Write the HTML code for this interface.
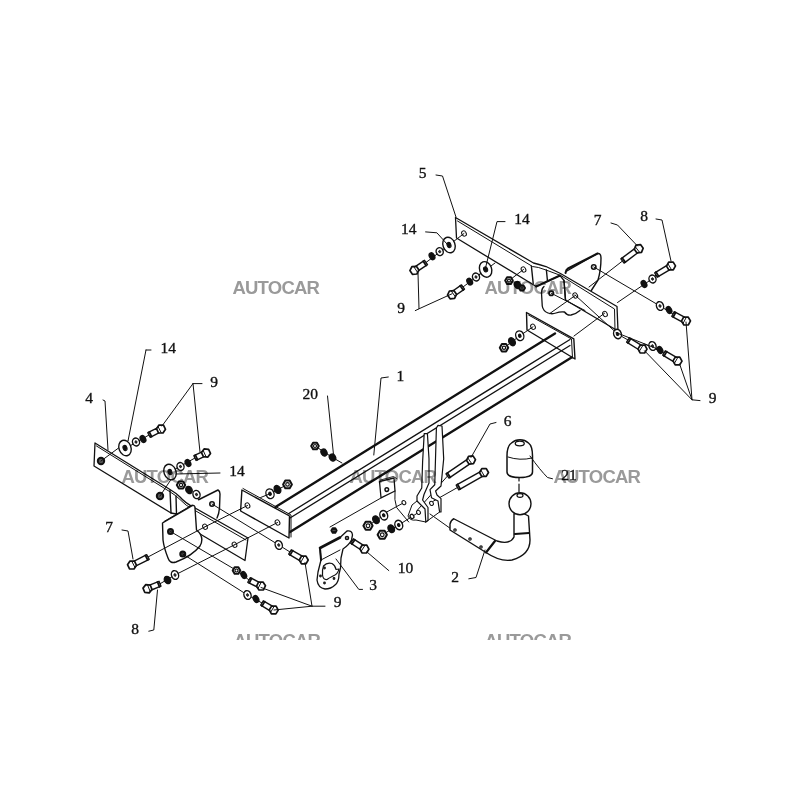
<!DOCTYPE html>
<html><head><meta charset="utf-8"><style>
html,body{margin:0;padding:0;background:#fff;width:800px;height:800px;overflow:hidden}
svg{display:block}
</style></head><body>
<svg width="800" height="800" viewBox="0 0 800 800">
<rect width="800" height="800" fill="#fff"/>
<path d="M566,271.5 L597.5,253.5 Q601,253 601,258 Q601,270 598,280 L591,291" fill="#fff" stroke="#111" stroke-width="1.4" stroke-linejoin="round" stroke-linecap="round"/>
<path d="M565.5,273 Q566,269.5 568,268.5 L597.5,253.5" fill="none" stroke="#111" stroke-width="2.0" stroke-linejoin="round" stroke-linecap="round"/>
<ellipse cx="593.75" cy="267" rx="2.2" ry="2.2" transform="rotate(0 593.75 267)" fill="#fff" stroke="#111" stroke-width="1.6"/>
<polygon points="455.5,217.5 533.5,263.0 539.0,264.5 546.0,266.5 560.5,273.5 617.0,306.5 618.0,331.0 565.5,300.0 564.0,280.5 560.0,275.5 536.2,286.5 456.5,238.0" fill="#fff" stroke="#111" stroke-width="1.3" stroke-linejoin="round"/>
<polyline points="457.5,221.0 532.5,266.5 538.5,267.5 546.0,270.0 561.0,275.6 614.5,309.0 615.0,329.5" fill="none" stroke="#111" stroke-width="1.0" stroke-linejoin="round" stroke-linecap="round"/>
<polyline points="531.4,266.2 533.2,283.5" fill="none" stroke="#111" stroke-width="1.4" stroke-linejoin="round" stroke-linecap="round"/>
<polyline points="546.4,270.0 547.5,281.2" fill="none" stroke="#111" stroke-width="1.4" stroke-linejoin="round" stroke-linecap="round"/>
<polyline points="564.0,280.5 565.5,300.0" fill="none" stroke="#111" stroke-width="1.4" stroke-linejoin="round" stroke-linecap="round"/>
<ellipse cx="464" cy="233.5" rx="2.2" ry="2.8" transform="rotate(-30 464 233.5)" fill="#fff" stroke="#111" stroke-width="1.0"/>
<ellipse cx="523.5" cy="269.5" rx="2.2" ry="2.8" transform="rotate(-30 523.5 269.5)" fill="#fff" stroke="#111" stroke-width="1.0"/>
<ellipse cx="605" cy="314" rx="2.2" ry="2.8" transform="rotate(-30 605 314)" fill="#fff" stroke="#111" stroke-width="1.0"/>
<polyline points="536.2,286.5 560.0,275.5" fill="none" stroke="#111" stroke-width="2.0" stroke-linejoin="round" stroke-linecap="round"/>
<path d="M544,286.5 Q541.5,288.5 541.5,293 L542.25,306 Q543,311 548,313 Q552,314.5 556,313 Q560,311.5 564.5,312 Q567,315.5 571,315 Q576,314 580,310.5" fill="none" stroke="#111" stroke-width="1.3" stroke-linejoin="round" stroke-linecap="round"/>
<ellipse cx="551.25" cy="293.25" rx="2.2" ry="2.2" transform="rotate(0 551.25 293.25)" fill="#fff" stroke="#111" stroke-width="1.8"/>
<ellipse cx="575.25" cy="295.5" rx="2.2" ry="2.8" transform="rotate(-30 575.25 295.5)" fill="#fff" stroke="#111" stroke-width="1.0"/>
<polyline points="551.2,293.2 585.0,310.5" fill="none" stroke="#111" stroke-width="1.0" stroke-linejoin="round" stroke-linecap="round"/>
<polyline points="575.2,295.5 549.8,313.5" fill="none" stroke="#111" stroke-width="1.0" stroke-linejoin="round" stroke-linecap="round"/>
<polyline points="275.5,507.0 555.0,333.5" fill="none" stroke="#111" stroke-width="2.4" stroke-linejoin="round" stroke-linecap="round"/>
<polyline points="288.0,514.0 570.0,339.5" fill="none" stroke="#111" stroke-width="1.3" stroke-linejoin="round" stroke-linecap="round"/>
<polyline points="290.0,518.0 570.0,345.5" fill="none" stroke="#111" stroke-width="1.3" stroke-linejoin="round" stroke-linecap="round"/>
<polyline points="290.0,532.0 571.5,357.5" fill="none" stroke="#111" stroke-width="2.4" stroke-linejoin="round" stroke-linecap="round"/>
<polygon points="241.9,490.0 289.5,516.0 289.0,538.0 240.6,511.0" fill="#fff" stroke="#111" stroke-width="1.4" stroke-linejoin="round"/>
<polyline points="243.0,488.5 291.0,515.0 291.0,537.0" fill="none" stroke="#111" stroke-width="1.0" stroke-linejoin="round" stroke-linecap="round"/>
<ellipse cx="247.5" cy="505.5" rx="2.2" ry="2.8" transform="rotate(-30 247.5 505.5)" fill="#fff" stroke="#111" stroke-width="1.0"/>
<ellipse cx="277.5" cy="522.5" rx="2.2" ry="2.8" transform="rotate(-30 277.5 522.5)" fill="#fff" stroke="#111" stroke-width="1.0"/>
<polygon points="526.5,312.5 573.8,338.8 575.0,359.0 527.0,330.0" fill="none" stroke="#111" stroke-width="1.4" stroke-linejoin="round"/>
<polyline points="528.5,315.0 571.5,339.0 572.5,358.0" fill="none" stroke="#111" stroke-width="1.0" stroke-linejoin="round" stroke-linecap="round"/>
<ellipse cx="533" cy="326.75" rx="2.2" ry="2.8" transform="rotate(-30 533 326.75)" fill="#fff" stroke="#111" stroke-width="1.0"/>
<path d="M95,443 L170,489.5 Q176,493 180,497 Q185,503 195,508 L248,538 L245,560.5 L195,531 L176.5,514 L171,513 L94,466 Z" fill="#fff" stroke="#111" stroke-width="1.3" stroke-linejoin="round" stroke-linecap="round"/>
<path d="M96.5,446 L170,491.8 Q176,495.5 180,499.5 Q185,505.5 195,510.5 L246,540" fill="none" stroke="#111" stroke-width="1.0" stroke-linejoin="round" stroke-linecap="round"/>
<polyline points="170.0,490.0 171.0,513.0" fill="none" stroke="#111" stroke-width="1.4" stroke-linejoin="round" stroke-linecap="round"/>
<polyline points="176.0,496.0 176.5,514.0" fill="none" stroke="#111" stroke-width="1.4" stroke-linejoin="round" stroke-linecap="round"/>
<ellipse cx="101" cy="461" rx="3.2" ry="3.2" transform="rotate(0 101 461)" fill="#555" stroke="#111" stroke-width="2.0"/>
<ellipse cx="160" cy="496" rx="3.2" ry="3.2" transform="rotate(0 160 496)" fill="#555" stroke="#111" stroke-width="2.0"/>
<ellipse cx="205" cy="526.75" rx="2.2" ry="2.8" transform="rotate(-30 205 526.75)" fill="#fff" stroke="#111" stroke-width="1.0"/>
<ellipse cx="234.5" cy="544.75" rx="2.2" ry="2.8" transform="rotate(-30 234.5 544.75)" fill="#fff" stroke="#111" stroke-width="1.0"/>
<path d="M198.5,499.75 L218,490 Q220,491 220,494 L219.5,508 Q219,514 217,518" fill="none" stroke="#111" stroke-width="1.4" stroke-linejoin="round" stroke-linecap="round"/>
<ellipse cx="212" cy="504" rx="2.2" ry="2.2" transform="rotate(0 212 504)" fill="#fff" stroke="#111" stroke-width="1.6"/>
<path d="M162.5,523 L192.5,505.5 Q195,505 195,508 L196.5,530 Q205,537 200,546 Q192,556 176,562 Q170,564 168,558 Q164,548 163,540 Z" fill="#fff" stroke="#111" stroke-width="1.4" stroke-linejoin="round" stroke-linecap="round"/>
<polyline points="164.0,521.5 192.0,505.0" fill="none" stroke="#111" stroke-width="1.0" stroke-linejoin="round" stroke-linecap="round"/>
<ellipse cx="170.5" cy="531.5" rx="2.5" ry="2.5" transform="rotate(0 170.5 531.5)" fill="#444" stroke="#111" stroke-width="2.0"/>
<ellipse cx="182.75" cy="554" rx="2.5" ry="2.5" transform="rotate(0 182.75 554)" fill="#444" stroke="#111" stroke-width="2.0"/>
<polyline points="464.0,233.5 449.0,245.0" fill="none" stroke="#111" stroke-width="1.0" stroke-linejoin="round" stroke-linecap="round"/>
<polyline points="523.5,269.5 509.0,280.6" fill="none" stroke="#111" stroke-width="1.0" stroke-linejoin="round" stroke-linecap="round"/>
<polyline points="485.6,269.4 476.0,277.0" fill="none" stroke="#111" stroke-width="1.0" stroke-linejoin="round" stroke-linecap="round"/>
<polyline points="533.0,326.8 519.8,335.8" fill="none" stroke="#111" stroke-width="1.0" stroke-linejoin="round" stroke-linecap="round"/>
<polyline points="593.8,267.0 660.0,306.0" fill="none" stroke="#111" stroke-width="1.0" stroke-linejoin="round" stroke-linecap="round"/>
<polyline points="589.0,287.0 622.5,261.0" fill="none" stroke="#111" stroke-width="1.0" stroke-linejoin="round" stroke-linecap="round"/>
<polyline points="617.5,302.5 652.0,279.0" fill="none" stroke="#111" stroke-width="1.0" stroke-linejoin="round" stroke-linecap="round"/>
<polyline points="604.6,313.2 574.0,336.0" fill="none" stroke="#111" stroke-width="1.0" stroke-linejoin="round" stroke-linecap="round"/>
<polyline points="575.0,295.0 616.0,332.5" fill="none" stroke="#111" stroke-width="1.0" stroke-linejoin="round" stroke-linecap="round"/>
<polyline points="101.0,461.0 128.0,441.0" fill="none" stroke="#111" stroke-width="1.0" stroke-linejoin="round" stroke-linecap="round"/>
<polyline points="160.0,496.0 176.0,472.0" fill="none" stroke="#111" stroke-width="1.0" stroke-linejoin="round" stroke-linecap="round"/>
<polyline points="170.5,531.5 237.5,571.0" fill="none" stroke="#111" stroke-width="1.0" stroke-linejoin="round" stroke-linecap="round"/>
<polyline points="182.8,554.0 247.5,595.0" fill="none" stroke="#111" stroke-width="1.0" stroke-linejoin="round" stroke-linecap="round"/>
<polyline points="205.0,526.8 148.0,557.0" fill="none" stroke="#111" stroke-width="1.0" stroke-linejoin="round" stroke-linecap="round"/>
<polyline points="234.5,544.8 175.0,575.0" fill="none" stroke="#111" stroke-width="1.0" stroke-linejoin="round" stroke-linecap="round"/>
<polyline points="277.5,522.5 234.5,544.8" fill="none" stroke="#111" stroke-width="1.0" stroke-linejoin="round" stroke-linecap="round"/>
<polyline points="247.5,505.5 205.0,526.8" fill="none" stroke="#111" stroke-width="1.0" stroke-linejoin="round" stroke-linecap="round"/>
<polyline points="212.0,504.0 278.8,545.0" fill="none" stroke="#111" stroke-width="1.0" stroke-linejoin="round" stroke-linecap="round"/>
<polyline points="403.9,502.6 386.0,512.4" fill="none" stroke="#111" stroke-width="1.0" stroke-linejoin="round" stroke-linecap="round"/>
<polyline points="418.5,512.4 400.6,523.8" fill="none" stroke="#111" stroke-width="1.0" stroke-linejoin="round" stroke-linecap="round"/>
<polyline points="431.0,502.5 457.5,487.5" fill="none" stroke="#111" stroke-width="1.0" stroke-linejoin="round" stroke-linecap="round"/>
<polyline points="417.5,510.0 447.5,476.0" fill="none" stroke="#111" stroke-width="1.0" stroke-linejoin="round" stroke-linecap="round"/>
<polyline points="426.0,262.5 449.0,245.0" fill="none" stroke="#111" stroke-width="1.0" stroke-linejoin="round" stroke-linecap="round"/>
<polyline points="463.0,287.0 495.0,263.0" fill="none" stroke="#111" stroke-width="1.0" stroke-linejoin="round" stroke-linecap="round"/>
<polyline points="656.0,275.0 652.0,279.0" fill="none" stroke="#111" stroke-width="1.0" stroke-linejoin="round" stroke-linecap="round"/>
<polyline points="673.0,314.0 660.0,306.0" fill="none" stroke="#111" stroke-width="1.0" stroke-linejoin="round" stroke-linecap="round"/>
<polyline points="628.0,340.0 617.5,334.0" fill="none" stroke="#111" stroke-width="1.0" stroke-linejoin="round" stroke-linecap="round"/>
<polyline points="664.0,353.0 644.6,344.0" fill="none" stroke="#111" stroke-width="1.0" stroke-linejoin="round" stroke-linecap="round"/>
<polyline points="149.0,435.0 128.0,447.0" fill="none" stroke="#111" stroke-width="1.0" stroke-linejoin="round" stroke-linecap="round"/>
<polyline points="195.0,458.0 170.0,472.0" fill="none" stroke="#111" stroke-width="1.0" stroke-linejoin="round" stroke-linecap="round"/>
<polyline points="332.5,457.5 342.0,463.0" fill="none" stroke="#111" stroke-width="1.0" stroke-linejoin="round" stroke-linecap="round"/>
<polyline points="315.0,446.0 332.5,457.5" fill="none" stroke="#111" stroke-width="1.0" stroke-linejoin="round" stroke-linecap="round"/>
<polyline points="504.0,347.8 519.8,335.8" fill="none" stroke="#111" stroke-width="1.0" stroke-linejoin="round" stroke-linecap="round"/>
<polyline points="287.5,484.4 270.0,493.8" fill="none" stroke="#111" stroke-width="1.0" stroke-linejoin="round" stroke-linecap="round"/>
<polyline points="249.0,580.0 237.5,571.0" fill="none" stroke="#111" stroke-width="1.0" stroke-linejoin="round" stroke-linecap="round"/>
<polyline points="262.0,603.0 247.5,595.0" fill="none" stroke="#111" stroke-width="1.0" stroke-linejoin="round" stroke-linecap="round"/>
<polyline points="160.0,583.8 175.0,575.0" fill="none" stroke="#111" stroke-width="1.0" stroke-linejoin="round" stroke-linecap="round"/>
<polyline points="290.0,552.0 278.8,545.0" fill="none" stroke="#111" stroke-width="1.0" stroke-linejoin="round" stroke-linecap="round"/>
<polyline points="352.0,541.0 347.0,538.0" fill="none" stroke="#111" stroke-width="1.0" stroke-linejoin="round" stroke-linecap="round"/>
<polyline points="368.0,525.8 383.8,515.2" fill="none" stroke="#111" stroke-width="1.0" stroke-linejoin="round" stroke-linecap="round"/>
<polyline points="382.2,534.8 398.8,525.0" fill="none" stroke="#111" stroke-width="1.0" stroke-linejoin="round" stroke-linecap="round"/>
<polygon points="379.5,481.5 394.0,478.0 395.0,491.0 381.0,497.8" fill="#fff" stroke="#111" stroke-width="1.3" stroke-linejoin="round"/>
<polyline points="380.5,480.0 393.5,476.5 396.5,478.5" fill="none" stroke="#111" stroke-width="0.9" stroke-linejoin="round" stroke-linecap="round"/>
<ellipse cx="386.8" cy="489.6" rx="1.8" ry="1.8" transform="rotate(0 386.8 489.6)" fill="#fff" stroke="#111" stroke-width="1.5"/>
<path d="M395,491 Q394,500 396.6,507.5 L408.75,522" fill="none" stroke="#111" stroke-width="1.0" stroke-linejoin="round" stroke-linecap="round"/>
<path d="M436.4,428 L438,425.4 L442,426 L443.7,458.75 L441,486 L435.6,491 L437,495 L441,498.6 L441,512 L439.6,512 L438,501 L431.5,497.75 L430,489.6 L434.75,484.75 Z" fill="#fff" stroke="#111" stroke-width="1.2" stroke-linejoin="round" stroke-linecap="round"/>
<path d="M424.2,433.6 L427.4,433.6 L429,458.75 L429,483 L424,494.5 L422.6,500 L428,507.5 L428,520.5 L425.8,522 L425,509 L417,501 L417,496 L421.75,488 L422.6,462 Z" fill="#fff" stroke="#111" stroke-width="1.2" stroke-linejoin="round" stroke-linecap="round"/>
<path d="M425.8,522 L439.6,512" fill="none" stroke="#111" stroke-width="1.0" stroke-linejoin="round" stroke-linecap="round"/>
<path d="M417,501 L412,505 L408,516 Q410,521 416,520 L425.8,522" fill="none" stroke="#111" stroke-width="1.0" stroke-linejoin="round" stroke-linecap="round"/>
<ellipse cx="403.9" cy="502.6" rx="1.8" ry="2.2" transform="rotate(-30 403.9 502.6)" fill="#fff" stroke="#111" stroke-width="1.0"/>
<ellipse cx="418.5" cy="512.4" rx="1.8" ry="2.2" transform="rotate(-30 418.5 512.4)" fill="#fff" stroke="#111" stroke-width="1.0"/>
<ellipse cx="431.5" cy="503.4" rx="1.8" ry="2.2" transform="rotate(-30 431.5 503.4)" fill="#fff" stroke="#111" stroke-width="1.0"/>
<ellipse cx="412" cy="516.4" rx="1.8" ry="2.2" transform="rotate(-30 412 516.4)" fill="#fff" stroke="#111" stroke-width="1.3"/>
<polyline points="430.0,514.0 457.5,533.5" fill="none" stroke="#111" stroke-width="1.0" stroke-linejoin="round" stroke-linecap="round"/>
<path d="M320,548 L340,537.5 L347,531 Q352,530 352.5,535 L351.5,540 Q349,545 343,549 L341,558 L340.5,568 L339,574 Q339,582 335,585 Q331,589 325,589 Q318,588 317,580 L318,572 L321,560 Z" fill="#fff" stroke="#111" stroke-width="1.3" stroke-linejoin="round" stroke-linecap="round"/>
<path d="M323.5,566 Q327,562 332,563.5 Q335.5,565.5 336,569.5 L339,569 Q338,574 333,576 Q329,578 327,579.5 Q323,580 322.5,575 Q322,570 323.5,566 Z" fill="none" stroke="#111" stroke-width="1.2" stroke-linejoin="round" stroke-linecap="round"/>
<ellipse cx="324.5" cy="568" rx="0.8" ry="0.8" transform="rotate(0 324.5 568)" fill="#fff" stroke="#111" stroke-width="1.2"/>
<ellipse cx="320.5" cy="576" rx="0.8" ry="0.8" transform="rotate(0 320.5 576)" fill="#fff" stroke="#111" stroke-width="1.2"/>
<ellipse cx="324.5" cy="583" rx="0.8" ry="0.8" transform="rotate(0 324.5 583)" fill="#fff" stroke="#111" stroke-width="1.2"/>
<ellipse cx="334" cy="578.5" rx="0.8" ry="0.8" transform="rotate(0 334 578.5)" fill="#fff" stroke="#111" stroke-width="1.2"/>
<polyline points="320.0,548.0 340.0,537.5" fill="none" stroke="#111" stroke-width="2.6" stroke-linejoin="round" stroke-linecap="round"/>
<polyline points="320.0,548.0 321.0,560.0" fill="none" stroke="#111" stroke-width="2.0" stroke-linejoin="round" stroke-linecap="round"/>
<polyline points="321.0,560.0 340.0,550.0" fill="none" stroke="#111" stroke-width="1.0" stroke-linejoin="round" stroke-linecap="round"/>
<ellipse cx="347" cy="538" rx="1.5" ry="1.5" transform="rotate(0 347 538)" fill="#fff" stroke="#111" stroke-width="1.6"/>
<polygon points="336.6,530.5 335.3,532.8 332.7,532.8 331.4,530.5 332.7,528.2 335.3,528.2" fill="#fff" stroke="#111" stroke-width="2.0" stroke-linejoin="round"/>
<ellipse cx="334" cy="530.5" rx="1.04" ry="1.04" transform="rotate(0 334 530.5)" fill="#fff" stroke="#111" stroke-width="1.2"/>
<polyline points="330.0,527.0 381.0,498.0" fill="none" stroke="#111" stroke-width="1.0" stroke-linejoin="round" stroke-linecap="round"/>
<path d="M453.75,518.75 Q451,520 450,524 L450,530 L486,552.5 Q500,562 512,560 Q530,555 530,540 L528.5,516 Q521,511 514,514 L514,537 Q510,545 497,541 Z" fill="#fff" stroke="#111" stroke-width="1.4" stroke-linejoin="round" stroke-linecap="round"/>
<polyline points="486.0,552.5 495.0,541.0" fill="none" stroke="#111" stroke-width="2.2" stroke-linejoin="round" stroke-linecap="round"/>
<polyline points="515.0,534.0 529.0,533.0" fill="none" stroke="#111" stroke-width="2.2" stroke-linejoin="round" stroke-linecap="round"/>
<ellipse cx="455" cy="530" rx="1.2" ry="1.2" transform="rotate(0 455 530)" fill="#fff" stroke="#111" stroke-width="1.2"/>
<ellipse cx="470" cy="539" rx="1.2" ry="1.2" transform="rotate(0 470 539)" fill="#fff" stroke="#111" stroke-width="1.2"/>
<ellipse cx="481" cy="547" rx="1.2" ry="1.2" transform="rotate(0 481 547)" fill="#fff" stroke="#111" stroke-width="1.2"/>
<ellipse cx="520" cy="503.75" rx="11" ry="11" transform="rotate(0 520 503.75)" fill="#fff" stroke="#111" stroke-width="1.4"/>
<ellipse cx="520" cy="495.5" rx="3" ry="1.8" transform="rotate(0 520 495.5)" fill="#fff" stroke="#111" stroke-width="1.2"/>
<polyline points="519.0,478.0 519.0,481.0" fill="none" stroke="#111" stroke-width="1.2" stroke-linejoin="round" stroke-linecap="round"/>
<polyline points="519.0,484.0 519.0,492.0" fill="none" stroke="#111" stroke-width="1.2" stroke-linejoin="round" stroke-linecap="round"/>
<path d="M507,472 L507,456 Q507,446 511.5,443 Q515,439.8 520,439.8 Q525,439.8 528.5,443 Q532.5,446 532.5,456 L532.5,472 Q532.5,477.5 520,477.5 Q507,477.5 507,472 Z" fill="#fff" stroke="#111" stroke-width="1.5" stroke-linejoin="round" stroke-linecap="round"/>
<ellipse cx="519.75" cy="443.5" rx="4.5" ry="2.3" transform="rotate(0 519.75 443.5)" fill="#fff" stroke="#111" stroke-width="1.3"/>
<path d="M508,457 Q520,461 532,458" fill="none" stroke="#111" stroke-width="1.0" stroke-linejoin="round" stroke-linecap="round"/>
<ellipse cx="449" cy="245" rx="6" ry="8" transform="rotate(-20 449 245)" fill="#fff" stroke="#111" stroke-width="1.4"/>
<ellipse cx="449" cy="245" rx="1.98" ry="2.64" transform="rotate(-20 449 245)" fill="#111" stroke="#111" stroke-width="1.0"/>
<ellipse cx="439.7" cy="251.6" rx="3.5" ry="4" transform="rotate(-20 439.7 251.6)" fill="#fff" stroke="#111" stroke-width="1.4"/>
<ellipse cx="439.7" cy="251.6" rx="1.05" ry="1.2" transform="rotate(-20 439.7 251.6)" fill="#333" stroke="#111" stroke-width="0.8"/>
<ellipse cx="432" cy="256.25" rx="2.5" ry="3.5" transform="rotate(-30 432 256.25)" fill="#111" stroke="#111" stroke-width="1.4"/>
<polygon points="418.5,270.7 427.5,264.7 424.5,260.3 415.6,266.4" fill="#fff" stroke="#111" stroke-width="1.4" stroke-linejoin="round"/>
<polyline points="426.1,265.6 423.2,261.2" fill="none" stroke="#111" stroke-width="1.8" stroke-linejoin="round" stroke-linecap="round"/>
<polygon points="418.9,270.0 416.9,274.0 412.4,274.3 409.9,270.6 411.9,266.6 416.4,266.3" fill="#fff" stroke="#111" stroke-width="1.7" stroke-linejoin="round"/>
<polyline points="417.5,272.3 413.8,266.7" fill="none" stroke="#111" stroke-width="1.0" stroke-linejoin="round" stroke-linecap="round"/>
<ellipse cx="485.6" cy="269.4" rx="6" ry="8" transform="rotate(-20 485.6 269.4)" fill="#fff" stroke="#111" stroke-width="1.4"/>
<ellipse cx="485.6" cy="269.4" rx="1.98" ry="2.64" transform="rotate(-20 485.6 269.4)" fill="#111" stroke="#111" stroke-width="1.0"/>
<ellipse cx="476" cy="277" rx="3.5" ry="4" transform="rotate(-20 476 277)" fill="#fff" stroke="#111" stroke-width="1.4"/>
<ellipse cx="476" cy="277" rx="1.05" ry="1.2" transform="rotate(-20 476 277)" fill="#333" stroke="#111" stroke-width="0.8"/>
<ellipse cx="469.7" cy="281.6" rx="2.5" ry="3.5" transform="rotate(-30 469.7 281.6)" fill="#111" stroke="#111" stroke-width="1.4"/>
<polygon points="456.1,295.0 464.5,289.1 461.5,284.9 453.1,290.8" fill="#fff" stroke="#111" stroke-width="1.4" stroke-linejoin="round"/>
<polyline points="463.2,290.0 460.2,285.8" fill="none" stroke="#111" stroke-width="1.8" stroke-linejoin="round" stroke-linecap="round"/>
<polygon points="456.5,294.3 454.6,298.4 450.1,298.8 447.5,295.1 449.4,291.0 453.9,290.6" fill="#fff" stroke="#111" stroke-width="1.7" stroke-linejoin="round"/>
<polyline points="455.2,296.6 451.3,291.1" fill="none" stroke="#111" stroke-width="1.0" stroke-linejoin="round" stroke-linecap="round"/>
<polygon points="512.8,280.6 510.9,283.9 507.1,283.9 505.2,280.6 507.1,277.3 510.9,277.3" fill="#fff" stroke="#111" stroke-width="2.0" stroke-linejoin="round"/>
<ellipse cx="509" cy="280.6" rx="1.52" ry="1.52" transform="rotate(0 509 280.6)" fill="#fff" stroke="#111" stroke-width="1.2"/>
<ellipse cx="517.5" cy="285" rx="3" ry="3.5" transform="rotate(-30 517.5 285)" fill="#111" stroke="#111" stroke-width="1.4"/>
<polygon points="525.0,288.0 523.5,290.6 520.5,290.6 519.0,288.0 520.5,285.4 523.5,285.4" fill="#fff" stroke="#111" stroke-width="2.0" stroke-linejoin="round"/>
<ellipse cx="522" cy="288" rx="1.2000000000000002" ry="1.2000000000000002" transform="rotate(0 522 288)" fill="#fff" stroke="#111" stroke-width="1.2"/>
<polygon points="508.2,347.8 506.1,351.4 501.9,351.4 499.8,347.8 501.9,344.1 506.1,344.1" fill="#fff" stroke="#111" stroke-width="2.0" stroke-linejoin="round"/>
<ellipse cx="504" cy="347.75" rx="1.6800000000000002" ry="1.6800000000000002" transform="rotate(0 504 347.75)" fill="#fff" stroke="#111" stroke-width="1.2"/>
<ellipse cx="512" cy="341.75" rx="3" ry="4.2" transform="rotate(-30 512 341.75)" fill="#111" stroke="#111" stroke-width="1.4"/>
<ellipse cx="519.75" cy="335.75" rx="4" ry="5" transform="rotate(-20 519.75 335.75)" fill="#fff" stroke="#111" stroke-width="1.4"/>
<ellipse cx="519.75" cy="335.75" rx="1.32" ry="1.6500000000000001" transform="rotate(-20 519.75 335.75)" fill="#111" stroke="#111" stroke-width="1.0"/>
<polygon points="634.7,248.6 620.9,258.9 624.1,263.1 637.8,252.7" fill="#fff" stroke="#111" stroke-width="1.4" stroke-linejoin="round"/>
<polyline points="622.2,258.0 625.3,262.1" fill="none" stroke="#111" stroke-width="1.8" stroke-linejoin="round" stroke-linecap="round"/>
<polygon points="634.3,249.3 636.0,245.2 640.5,244.6 643.2,248.2 641.5,252.3 637.0,252.9" fill="#fff" stroke="#111" stroke-width="1.7" stroke-linejoin="round"/>
<polyline points="635.5,247.0 639.6,252.3" fill="none" stroke="#111" stroke-width="1.0" stroke-linejoin="round" stroke-linecap="round"/>
<polygon points="667.0,265.4 654.7,272.8 657.3,277.2 669.6,269.9" fill="#fff" stroke="#111" stroke-width="1.4" stroke-linejoin="round"/>
<polyline points="656.0,271.9 658.7,276.4" fill="none" stroke="#111" stroke-width="1.8" stroke-linejoin="round" stroke-linecap="round"/>
<polygon points="666.5,266.1 668.7,262.1 673.2,262.1 675.5,265.9 673.3,269.9 668.8,269.9" fill="#fff" stroke="#111" stroke-width="1.7" stroke-linejoin="round"/>
<polyline points="668.0,263.9 671.5,269.7" fill="none" stroke="#111" stroke-width="1.0" stroke-linejoin="round" stroke-linecap="round"/>
<ellipse cx="652.5" cy="279" rx="3.5" ry="4" transform="rotate(-20 652.5 279)" fill="#fff" stroke="#111" stroke-width="1.4"/>
<ellipse cx="652.5" cy="279" rx="1.05" ry="1.2" transform="rotate(-20 652.5 279)" fill="#333" stroke="#111" stroke-width="0.8"/>
<ellipse cx="644" cy="284" rx="2.5" ry="3.5" transform="rotate(-30 644 284)" fill="#111" stroke="#111" stroke-width="1.4"/>
<ellipse cx="660" cy="306" rx="3.5" ry="4.5" transform="rotate(-20 660 306)" fill="#fff" stroke="#111" stroke-width="1.4"/>
<ellipse cx="660" cy="306" rx="1.05" ry="1.3499999999999999" transform="rotate(-20 660 306)" fill="#333" stroke="#111" stroke-width="0.8"/>
<ellipse cx="669" cy="310" rx="2.5" ry="3.5" transform="rotate(-30 669 310)" fill="#111" stroke="#111" stroke-width="1.4"/>
<polygon points="684.5,317.2 674.2,311.7 671.8,316.3 682.0,321.8" fill="#fff" stroke="#111" stroke-width="1.4" stroke-linejoin="round"/>
<polyline points="675.6,312.5 673.2,317.0" fill="none" stroke="#111" stroke-width="1.8" stroke-linejoin="round" stroke-linecap="round"/>
<polygon points="683.6,317.2 688.1,317.0 690.5,320.9 688.4,324.8 683.9,325.0 681.5,321.1" fill="#fff" stroke="#111" stroke-width="1.7" stroke-linejoin="round"/>
<polyline points="686.3,317.3 683.1,323.3" fill="none" stroke="#111" stroke-width="1.0" stroke-linejoin="round" stroke-linecap="round"/>
<ellipse cx="617.5" cy="334" rx="3.8" ry="4.8" transform="rotate(-20 617.5 334)" fill="#fff" stroke="#111" stroke-width="1.4"/>
<ellipse cx="617.5" cy="334" rx="1.254" ry="1.584" transform="rotate(-20 617.5 334)" fill="#111" stroke="#111" stroke-width="1.0"/>
<polygon points="641.2,345.1 629.4,337.8 626.6,342.2 638.5,349.5" fill="#fff" stroke="#111" stroke-width="1.4" stroke-linejoin="round"/>
<polyline points="630.7,338.6 628.0,343.1" fill="none" stroke="#111" stroke-width="1.8" stroke-linejoin="round" stroke-linecap="round"/>
<polygon points="640.4,345.0 644.9,345.2 647.0,349.1 644.6,353.0 640.1,352.8 638.0,348.9" fill="#fff" stroke="#111" stroke-width="1.7" stroke-linejoin="round"/>
<polyline points="643.0,345.3 639.4,351.1" fill="none" stroke="#111" stroke-width="1.0" stroke-linejoin="round" stroke-linecap="round"/>
<ellipse cx="652.5" cy="346" rx="3.5" ry="4.5" transform="rotate(-20 652.5 346)" fill="#fff" stroke="#111" stroke-width="1.4"/>
<ellipse cx="652.5" cy="346" rx="1.05" ry="1.3499999999999999" transform="rotate(-20 652.5 346)" fill="#333" stroke="#111" stroke-width="0.8"/>
<ellipse cx="660" cy="350" rx="2.5" ry="3.5" transform="rotate(-30 660 350)" fill="#111" stroke="#111" stroke-width="1.4"/>
<polygon points="676.1,357.2 665.3,350.8 662.7,355.2 673.5,361.6" fill="#fff" stroke="#111" stroke-width="1.4" stroke-linejoin="round"/>
<polyline points="666.7,351.6 664.1,356.1" fill="none" stroke="#111" stroke-width="1.8" stroke-linejoin="round" stroke-linecap="round"/>
<polygon points="675.3,357.1 679.8,357.1 682.0,361.1 679.7,364.9 675.2,364.9 673.0,360.9" fill="#fff" stroke="#111" stroke-width="1.7" stroke-linejoin="round"/>
<polyline points="677.9,357.3 674.5,363.1" fill="none" stroke="#111" stroke-width="1.0" stroke-linejoin="round" stroke-linecap="round"/>
<polyline points="616.0,332.5 660.0,350.0" fill="none" stroke="#111" stroke-width="1.0" stroke-linejoin="round" stroke-linecap="round"/>
<ellipse cx="270" cy="493.75" rx="4" ry="5" transform="rotate(-20 270 493.75)" fill="#fff" stroke="#111" stroke-width="1.4"/>
<ellipse cx="270" cy="493.75" rx="1.32" ry="1.6500000000000001" transform="rotate(-20 270 493.75)" fill="#111" stroke="#111" stroke-width="1.0"/>
<ellipse cx="277.5" cy="489.4" rx="3" ry="4.2" transform="rotate(-30 277.5 489.4)" fill="#111" stroke="#111" stroke-width="1.4"/>
<polygon points="291.9,484.4 289.7,488.2 285.3,488.2 283.1,484.4 285.3,480.6 289.7,480.6" fill="#fff" stroke="#111" stroke-width="2.0" stroke-linejoin="round"/>
<ellipse cx="287.5" cy="484.4" rx="1.7600000000000002" ry="1.7600000000000002" transform="rotate(0 287.5 484.4)" fill="#fff" stroke="#111" stroke-width="1.2"/>
<polyline points="260.6,497.5 270.0,493.8" fill="none" stroke="#111" stroke-width="1.0" stroke-linejoin="round" stroke-linecap="round"/>
<polygon points="318.8,446.0 316.9,449.3 313.1,449.3 311.2,446.0 313.1,442.7 316.9,442.7" fill="#fff" stroke="#111" stroke-width="2.0" stroke-linejoin="round"/>
<ellipse cx="315" cy="446" rx="1.52" ry="1.52" transform="rotate(0 315 446)" fill="#fff" stroke="#111" stroke-width="1.2"/>
<ellipse cx="324" cy="452.5" rx="2.8" ry="3.5" transform="rotate(-30 324 452.5)" fill="#111" stroke="#111" stroke-width="1.4"/>
<ellipse cx="332.5" cy="457.5" rx="3" ry="3.5" transform="rotate(-30 332.5 457.5)" fill="#111" stroke="#111" stroke-width="1.4"/>
<ellipse cx="125" cy="448" rx="6" ry="8" transform="rotate(-20 125 448)" fill="#fff" stroke="#111" stroke-width="1.4"/>
<ellipse cx="125" cy="448" rx="1.98" ry="2.64" transform="rotate(-20 125 448)" fill="#111" stroke="#111" stroke-width="1.0"/>
<ellipse cx="136" cy="442" rx="3.5" ry="4" transform="rotate(-20 136 442)" fill="#fff" stroke="#111" stroke-width="1.4"/>
<ellipse cx="136" cy="442" rx="1.05" ry="1.2" transform="rotate(-20 136 442)" fill="#333" stroke="#111" stroke-width="0.8"/>
<ellipse cx="143" cy="439" rx="2.5" ry="3.5" transform="rotate(-30 143 439)" fill="#111" stroke="#111" stroke-width="1.4"/>
<polygon points="157.0,428.1 147.8,432.7 150.2,437.3 159.3,432.7" fill="#fff" stroke="#111" stroke-width="1.4" stroke-linejoin="round"/>
<polyline points="149.3,432.0 151.6,436.6" fill="none" stroke="#111" stroke-width="1.8" stroke-linejoin="round" stroke-linecap="round"/>
<polygon points="156.5,428.7 159.0,425.0 163.5,425.2 165.5,429.3 163.0,433.0 158.5,432.8" fill="#fff" stroke="#111" stroke-width="1.7" stroke-linejoin="round"/>
<polyline points="158.1,426.7 161.2,432.7" fill="none" stroke="#111" stroke-width="1.0" stroke-linejoin="round" stroke-linecap="round"/>
<ellipse cx="170" cy="472" rx="6" ry="8" transform="rotate(-20 170 472)" fill="#fff" stroke="#111" stroke-width="1.4"/>
<ellipse cx="170" cy="472" rx="1.98" ry="2.64" transform="rotate(-20 170 472)" fill="#111" stroke="#111" stroke-width="1.0"/>
<ellipse cx="180.5" cy="466.5" rx="3.5" ry="4" transform="rotate(-20 180.5 466.5)" fill="#fff" stroke="#111" stroke-width="1.4"/>
<ellipse cx="180.5" cy="466.5" rx="1.05" ry="1.2" transform="rotate(-20 180.5 466.5)" fill="#333" stroke="#111" stroke-width="0.8"/>
<ellipse cx="188" cy="463" rx="2.5" ry="3.5" transform="rotate(-30 188 463)" fill="#111" stroke="#111" stroke-width="1.4"/>
<polygon points="202.1,451.9 193.9,455.6 196.1,460.4 204.2,456.7" fill="#fff" stroke="#111" stroke-width="1.4" stroke-linejoin="round"/>
<polyline points="195.4,455.0 197.5,459.7" fill="none" stroke="#111" stroke-width="1.8" stroke-linejoin="round" stroke-linecap="round"/>
<polygon points="201.5,452.6 204.1,448.9 208.6,449.3 210.5,453.4 207.9,457.1 203.4,456.7" fill="#fff" stroke="#111" stroke-width="1.7" stroke-linejoin="round"/>
<polyline points="203.2,450.5 206.0,456.7" fill="none" stroke="#111" stroke-width="1.0" stroke-linejoin="round" stroke-linecap="round"/>
<polygon points="185.2,485.0 183.1,488.6 178.9,488.6 176.8,485.0 178.9,481.4 183.1,481.4" fill="#fff" stroke="#111" stroke-width="2.0" stroke-linejoin="round"/>
<ellipse cx="181" cy="485" rx="1.6800000000000002" ry="1.6800000000000002" transform="rotate(0 181 485)" fill="#fff" stroke="#111" stroke-width="1.2"/>
<ellipse cx="189" cy="490" rx="3" ry="3.8" transform="rotate(-30 189 490)" fill="#111" stroke="#111" stroke-width="1.4"/>
<ellipse cx="196.5" cy="494.5" rx="3.5" ry="4.2" transform="rotate(-20 196.5 494.5)" fill="#fff" stroke="#111" stroke-width="1.4"/>
<ellipse cx="196.5" cy="494.5" rx="1.05" ry="1.26" transform="rotate(-20 196.5 494.5)" fill="#333" stroke="#111" stroke-width="0.8"/>
<polygon points="136.0,565.9 149.2,559.3 146.8,554.7 133.7,561.3" fill="#fff" stroke="#111" stroke-width="1.4" stroke-linejoin="round"/>
<polyline points="147.7,560.0 145.4,555.4" fill="none" stroke="#111" stroke-width="1.8" stroke-linejoin="round" stroke-linecap="round"/>
<polygon points="136.5,565.3 134.0,569.0 129.5,568.8 127.5,564.7 130.0,561.0 134.5,561.2" fill="#fff" stroke="#111" stroke-width="1.7" stroke-linejoin="round"/>
<polyline points="134.9,567.3 131.8,561.3" fill="none" stroke="#111" stroke-width="1.0" stroke-linejoin="round" stroke-linecap="round"/>
<polygon points="151.4,590.0 161.0,586.2 159.0,581.3 149.5,585.2" fill="#fff" stroke="#111" stroke-width="1.4" stroke-linejoin="round"/>
<polyline points="159.5,586.8 157.5,581.9" fill="none" stroke="#111" stroke-width="1.8" stroke-linejoin="round" stroke-linecap="round"/>
<polygon points="152.0,589.4 149.2,592.9 144.7,592.3 143.0,588.1 145.8,584.6 150.3,585.2" fill="#fff" stroke="#111" stroke-width="1.7" stroke-linejoin="round"/>
<polyline points="150.1,591.3 147.6,585.1" fill="none" stroke="#111" stroke-width="1.0" stroke-linejoin="round" stroke-linecap="round"/>
<ellipse cx="167.5" cy="580" rx="3" ry="3.8" transform="rotate(-30 167.5 580)" fill="#111" stroke="#111" stroke-width="1.4"/>
<ellipse cx="175" cy="575" rx="3.5" ry="4.5" transform="rotate(-20 175 575)" fill="#fff" stroke="#111" stroke-width="1.4"/>
<ellipse cx="175" cy="575" rx="1.05" ry="1.3499999999999999" transform="rotate(-20 175 575)" fill="#333" stroke="#111" stroke-width="0.8"/>
<polygon points="240.3,570.5 238.4,573.8 234.6,573.8 232.7,570.5 234.6,567.2 238.4,567.2" fill="#fff" stroke="#111" stroke-width="2.0" stroke-linejoin="round"/>
<ellipse cx="236.5" cy="570.5" rx="1.52" ry="1.52" transform="rotate(0 236.5 570.5)" fill="#fff" stroke="#111" stroke-width="1.2"/>
<ellipse cx="243.75" cy="575" rx="2.5" ry="3.5" transform="rotate(-30 243.75 575)" fill="#111" stroke="#111" stroke-width="1.4"/>
<polygon points="259.3,582.3 250.2,577.7 247.8,582.3 257.0,586.9" fill="#fff" stroke="#111" stroke-width="1.4" stroke-linejoin="round"/>
<polyline points="251.6,578.4 249.3,583.0" fill="none" stroke="#111" stroke-width="1.8" stroke-linejoin="round" stroke-linecap="round"/>
<polygon points="258.5,582.2 263.0,582.0 265.5,585.7 263.5,589.8 259.0,590.0 256.5,586.3" fill="#fff" stroke="#111" stroke-width="1.7" stroke-linejoin="round"/>
<polyline points="261.2,582.3 258.1,588.3" fill="none" stroke="#111" stroke-width="1.0" stroke-linejoin="round" stroke-linecap="round"/>
<ellipse cx="247.5" cy="595" rx="3.5" ry="4.5" transform="rotate(-20 247.5 595)" fill="#fff" stroke="#111" stroke-width="1.4"/>
<ellipse cx="247.5" cy="595" rx="1.05" ry="1.3499999999999999" transform="rotate(-20 247.5 595)" fill="#333" stroke="#111" stroke-width="0.8"/>
<ellipse cx="256" cy="599" rx="2.5" ry="3.5" transform="rotate(-30 256 599)" fill="#111" stroke="#111" stroke-width="1.4"/>
<polygon points="272.4,606.2 263.3,600.8 260.7,605.2 269.7,610.6" fill="#fff" stroke="#111" stroke-width="1.4" stroke-linejoin="round"/>
<polyline points="264.7,601.6 262.0,606.1" fill="none" stroke="#111" stroke-width="1.8" stroke-linejoin="round" stroke-linecap="round"/>
<polygon points="271.6,606.1 276.1,606.1 278.2,610.1 275.9,613.9 271.4,613.9 269.3,609.9" fill="#fff" stroke="#111" stroke-width="1.7" stroke-linejoin="round"/>
<polyline points="274.2,606.3 270.7,612.1" fill="none" stroke="#111" stroke-width="1.0" stroke-linejoin="round" stroke-linecap="round"/>
<ellipse cx="278.75" cy="545" rx="3.5" ry="4.5" transform="rotate(-20 278.75 545)" fill="#fff" stroke="#111" stroke-width="1.4"/>
<ellipse cx="278.75" cy="545" rx="1.05" ry="1.3499999999999999" transform="rotate(-20 278.75 545)" fill="#333" stroke="#111" stroke-width="0.8"/>
<polygon points="302.3,556.2 291.3,549.8 288.7,554.2 299.7,560.7" fill="#fff" stroke="#111" stroke-width="1.4" stroke-linejoin="round"/>
<polyline points="292.7,550.6 290.1,555.1" fill="none" stroke="#111" stroke-width="1.8" stroke-linejoin="round" stroke-linecap="round"/>
<polygon points="301.5,556.1 306.0,556.1 308.2,560.0 306.0,563.9 301.5,563.9 299.3,560.0" fill="#fff" stroke="#111" stroke-width="1.7" stroke-linejoin="round"/>
<polyline points="304.2,556.3 300.8,562.2" fill="none" stroke="#111" stroke-width="1.0" stroke-linejoin="round" stroke-linecap="round"/>
<ellipse cx="383.75" cy="515.25" rx="3.8" ry="4.8" transform="rotate(-20 383.75 515.25)" fill="#fff" stroke="#111" stroke-width="1.4"/>
<ellipse cx="383.75" cy="515.25" rx="1.254" ry="1.584" transform="rotate(-20 383.75 515.25)" fill="#111" stroke="#111" stroke-width="1.0"/>
<ellipse cx="376" cy="519.75" rx="3" ry="4" transform="rotate(-30 376 519.75)" fill="#111" stroke="#111" stroke-width="1.4"/>
<polygon points="372.6,525.8 370.3,529.7 365.7,529.7 363.4,525.8 365.7,521.8 370.3,521.8" fill="#fff" stroke="#111" stroke-width="2.0" stroke-linejoin="round"/>
<ellipse cx="368" cy="525.75" rx="1.8399999999999999" ry="1.8399999999999999" transform="rotate(0 368 525.75)" fill="#fff" stroke="#111" stroke-width="1.2"/>
<ellipse cx="398.75" cy="525" rx="3.8" ry="4.8" transform="rotate(-20 398.75 525)" fill="#fff" stroke="#111" stroke-width="1.4"/>
<ellipse cx="398.75" cy="525" rx="1.254" ry="1.584" transform="rotate(-20 398.75 525)" fill="#111" stroke="#111" stroke-width="1.0"/>
<ellipse cx="391.25" cy="528.75" rx="3" ry="4" transform="rotate(-30 391.25 528.75)" fill="#111" stroke="#111" stroke-width="1.4"/>
<polygon points="386.9,534.8 384.6,538.7 379.9,538.7 377.6,534.8 379.9,530.8 384.6,530.8" fill="#fff" stroke="#111" stroke-width="2.0" stroke-linejoin="round"/>
<ellipse cx="382.25" cy="534.75" rx="1.8399999999999999" ry="1.8399999999999999" transform="rotate(0 382.25 534.75)" fill="#fff" stroke="#111" stroke-width="1.2"/>
<polygon points="466.9,459.6 446.0,473.9 449.0,478.1 469.9,463.9" fill="#fff" stroke="#111" stroke-width="1.4" stroke-linejoin="round"/>
<polyline points="447.4,473.0 450.3,477.2" fill="none" stroke="#111" stroke-width="1.8" stroke-linejoin="round" stroke-linecap="round"/>
<polygon points="466.5,460.3 468.5,456.3 473.0,455.9 475.5,459.7 473.5,463.7 469.0,464.1" fill="#fff" stroke="#111" stroke-width="1.7" stroke-linejoin="round"/>
<polyline points="467.9,458.1 471.7,463.6" fill="none" stroke="#111" stroke-width="1.0" stroke-linejoin="round" stroke-linecap="round"/>
<polygon points="480.0,471.8 456.2,485.2 458.8,489.8 482.5,476.3" fill="#fff" stroke="#111" stroke-width="1.4" stroke-linejoin="round"/>
<polyline points="457.6,484.4 460.2,489.0" fill="none" stroke="#111" stroke-width="1.8" stroke-linejoin="round" stroke-linecap="round"/>
<polygon points="479.5,472.5 481.8,468.6 486.3,468.6 488.5,472.5 486.2,476.4 481.7,476.4" fill="#fff" stroke="#111" stroke-width="1.7" stroke-linejoin="round"/>
<polyline points="481.0,470.3 484.4,476.2" fill="none" stroke="#111" stroke-width="1.0" stroke-linejoin="round" stroke-linecap="round"/>
<polygon points="363.2,545.1 353.4,538.8 350.6,543.2 360.3,549.5" fill="#fff" stroke="#111" stroke-width="1.4" stroke-linejoin="round"/>
<polyline points="354.8,539.7 351.9,544.1" fill="none" stroke="#111" stroke-width="1.8" stroke-linejoin="round" stroke-linecap="round"/>
<polygon points="362.3,545.0 366.8,545.2 368.9,549.2 366.5,553.0 362.0,552.8 359.9,548.8" fill="#fff" stroke="#111" stroke-width="1.7" stroke-linejoin="round"/>
<polyline points="365.0,545.4 361.3,551.0" fill="none" stroke="#111" stroke-width="1.0" stroke-linejoin="round" stroke-linecap="round"/>
<polyline points="436.0,175.0 442.5,176.0 456.0,217.0" fill="none" stroke="#111" stroke-width="1.0" stroke-linejoin="round" stroke-linecap="round"/>
<polyline points="425.6,231.9 436.9,232.8 447.0,244.0" fill="none" stroke="#111" stroke-width="1.0" stroke-linejoin="round" stroke-linecap="round"/>
<polyline points="505.0,221.6 497.0,221.6 485.6,267.5" fill="none" stroke="#111" stroke-width="1.0" stroke-linejoin="round" stroke-linecap="round"/>
<polyline points="611.0,223.0 617.5,225.0 637.5,246.0" fill="none" stroke="#111" stroke-width="1.0" stroke-linejoin="round" stroke-linecap="round"/>
<polyline points="656.0,219.0 662.0,220.0 671.0,261.0" fill="none" stroke="#111" stroke-width="1.0" stroke-linejoin="round" stroke-linecap="round"/>
<polyline points="415.3,310.6 419.0,308.8 418.0,273.0" fill="none" stroke="#111" stroke-width="1.0" stroke-linejoin="round" stroke-linecap="round"/>
<polyline points="419.0,308.8 452.0,293.8" fill="none" stroke="#111" stroke-width="1.0" stroke-linejoin="round" stroke-linecap="round"/>
<polyline points="700.0,400.6 692.0,399.8 686.0,322.0" fill="none" stroke="#111" stroke-width="1.0" stroke-linejoin="round" stroke-linecap="round"/>
<polyline points="692.0,399.8 679.6,364.0" fill="none" stroke="#111" stroke-width="1.0" stroke-linejoin="round" stroke-linecap="round"/>
<polyline points="692.0,399.8 644.6,350.8" fill="none" stroke="#111" stroke-width="1.0" stroke-linejoin="round" stroke-linecap="round"/>
<polyline points="146.0,350.0 151.0,350.0" fill="none" stroke="#111" stroke-width="1.0" stroke-linejoin="round" stroke-linecap="round"/>
<polyline points="146.0,350.0 128.0,441.0" fill="none" stroke="#111" stroke-width="1.0" stroke-linejoin="round" stroke-linecap="round"/>
<polyline points="193.0,383.6 202.0,383.6" fill="none" stroke="#111" stroke-width="1.0" stroke-linejoin="round" stroke-linecap="round"/>
<polyline points="193.0,383.6 162.0,426.0" fill="none" stroke="#111" stroke-width="1.0" stroke-linejoin="round" stroke-linecap="round"/>
<polyline points="193.0,383.6 200.0,452.0" fill="none" stroke="#111" stroke-width="1.0" stroke-linejoin="round" stroke-linecap="round"/>
<polyline points="103.0,400.0 105.0,401.0 108.0,450.0" fill="none" stroke="#111" stroke-width="1.0" stroke-linejoin="round" stroke-linecap="round"/>
<polyline points="176.0,474.0 220.0,473.0" fill="none" stroke="#111" stroke-width="1.0" stroke-linejoin="round" stroke-linecap="round"/>
<polyline points="122.0,530.0 128.0,531.0 133.0,559.0" fill="none" stroke="#111" stroke-width="1.0" stroke-linejoin="round" stroke-linecap="round"/>
<polyline points="148.8,631.2 153.8,630.0 157.5,590.0" fill="none" stroke="#111" stroke-width="1.0" stroke-linejoin="round" stroke-linecap="round"/>
<polyline points="327.5,396.0 333.8,457.5" fill="none" stroke="#111" stroke-width="1.0" stroke-linejoin="round" stroke-linecap="round"/>
<polyline points="388.3,377.0 381.0,378.0 373.8,455.0" fill="none" stroke="#111" stroke-width="1.0" stroke-linejoin="round" stroke-linecap="round"/>
<polyline points="496.0,422.5 490.0,424.0 471.0,457.5" fill="none" stroke="#111" stroke-width="1.0" stroke-linejoin="round" stroke-linecap="round"/>
<path d="M530,456 Q540,470 547.5,477.5 L552.5,478.75" fill="none" stroke="#111" stroke-width="1.0" stroke-linejoin="round" stroke-linecap="round"/>
<polyline points="468.8,578.8 476.0,577.5 485.0,550.0" fill="none" stroke="#111" stroke-width="1.0" stroke-linejoin="round" stroke-linecap="round"/>
<polyline points="336.0,559.0 358.8,589.4 362.5,589.4" fill="none" stroke="#111" stroke-width="1.0" stroke-linejoin="round" stroke-linecap="round"/>
<polyline points="367.0,552.0 388.8,570.6" fill="none" stroke="#111" stroke-width="1.0" stroke-linejoin="round" stroke-linecap="round"/>
<polyline points="325.0,606.2 312.0,606.2 305.0,562.5" fill="none" stroke="#111" stroke-width="1.0" stroke-linejoin="round" stroke-linecap="round"/>
<polyline points="312.0,606.2 261.0,587.5" fill="none" stroke="#111" stroke-width="1.0" stroke-linejoin="round" stroke-linecap="round"/>
<polyline points="312.0,606.2 274.0,610.0" fill="none" stroke="#111" stroke-width="1.0" stroke-linejoin="round" stroke-linecap="round"/>
<text x="422.5" y="177.9" font-family="Liberation Serif, serif" font-size="15.5" fill="#111" stroke="#111" stroke-width="0.35" text-anchor="middle">5</text>
<text x="408.8" y="234.4" font-family="Liberation Serif, serif" font-size="15.5" fill="#111" stroke="#111" stroke-width="0.35" text-anchor="middle">14</text>
<text x="522.0" y="224.2" font-family="Liberation Serif, serif" font-size="15.5" fill="#111" stroke="#111" stroke-width="0.35" text-anchor="middle">14</text>
<text x="597.5" y="225.4" font-family="Liberation Serif, serif" font-size="15.5" fill="#111" stroke="#111" stroke-width="0.35" text-anchor="middle">7</text>
<text x="644.0" y="221.4" font-family="Liberation Serif, serif" font-size="15.5" fill="#111" stroke="#111" stroke-width="0.35" text-anchor="middle">8</text>
<text x="401.2" y="313.2" font-family="Liberation Serif, serif" font-size="15.5" fill="#111" stroke="#111" stroke-width="0.35" text-anchor="middle">9</text>
<text x="712.5" y="402.9" font-family="Liberation Serif, serif" font-size="15.5" fill="#111" stroke="#111" stroke-width="0.35" text-anchor="middle">9</text>
<text x="168.2" y="352.9" font-family="Liberation Serif, serif" font-size="15.5" fill="#111" stroke="#111" stroke-width="0.35" text-anchor="middle">14</text>
<text x="214.0" y="386.6" font-family="Liberation Serif, serif" font-size="15.5" fill="#111" stroke="#111" stroke-width="0.35" text-anchor="middle">9</text>
<text x="89.0" y="403.4" font-family="Liberation Serif, serif" font-size="15.5" fill="#111" stroke="#111" stroke-width="0.35" text-anchor="middle">4</text>
<text x="237.0" y="476.4" font-family="Liberation Serif, serif" font-size="15.5" fill="#111" stroke="#111" stroke-width="0.35" text-anchor="middle">14</text>
<text x="109.0" y="532.4" font-family="Liberation Serif, serif" font-size="15.5" fill="#111" stroke="#111" stroke-width="0.35" text-anchor="middle">7</text>
<text x="135.0" y="634.1" font-family="Liberation Serif, serif" font-size="15.5" fill="#111" stroke="#111" stroke-width="0.35" text-anchor="middle">8</text>
<text x="310.3" y="398.7" font-family="Liberation Serif, serif" font-size="15.5" fill="#111" stroke="#111" stroke-width="0.35" text-anchor="middle">20</text>
<text x="400.3" y="381.4" font-family="Liberation Serif, serif" font-size="15.5" fill="#111" stroke="#111" stroke-width="0.35" text-anchor="middle">1</text>
<text x="507.5" y="426.4" font-family="Liberation Serif, serif" font-size="15.5" fill="#111" stroke="#111" stroke-width="0.35" text-anchor="middle">6</text>
<text x="569.0" y="479.9" font-family="Liberation Serif, serif" font-size="15.5" fill="#111" stroke="#111" stroke-width="0.35" text-anchor="middle">21</text>
<text x="455.0" y="581.9" font-family="Liberation Serif, serif" font-size="15.5" fill="#111" stroke="#111" stroke-width="0.35" text-anchor="middle">2</text>
<text x="373.0" y="590.4" font-family="Liberation Serif, serif" font-size="15.5" fill="#111" stroke="#111" stroke-width="0.35" text-anchor="middle">3</text>
<text x="405.5" y="573.4" font-family="Liberation Serif, serif" font-size="15.5" fill="#111" stroke="#111" stroke-width="0.35" text-anchor="middle">10</text>
<text x="337.5" y="607.1" font-family="Liberation Serif, serif" font-size="15.5" fill="#111" stroke="#111" stroke-width="0.35" text-anchor="middle">9</text>
<text x="232.5" y="293.5" font-family="Liberation Sans, sans-serif" font-weight="bold" font-size="18.5" fill="#9a9a9a" style="mix-blend-mode:multiply" letter-spacing="-0.8">AUTOCAR</text>
<text x="484.5" y="293.5" font-family="Liberation Sans, sans-serif" font-weight="bold" font-size="18.5" fill="#9a9a9a" style="mix-blend-mode:multiply" letter-spacing="-0.8">AUTOCAR</text>
<text x="121.5" y="482.5" font-family="Liberation Sans, sans-serif" font-weight="bold" font-size="18.5" fill="#9a9a9a" style="mix-blend-mode:multiply" letter-spacing="-0.8">AUTOCAR</text>
<text x="349.5" y="482.5" font-family="Liberation Sans, sans-serif" font-weight="bold" font-size="18.5" fill="#9a9a9a" style="mix-blend-mode:multiply" letter-spacing="-0.8">AUTOCAR</text>
<text x="553.5" y="482.5" font-family="Liberation Sans, sans-serif" font-weight="bold" font-size="18.5" fill="#9a9a9a" style="mix-blend-mode:multiply" letter-spacing="-0.8">AUTOCAR</text>
<text x="233.5" y="647" font-family="Liberation Sans, sans-serif" font-weight="bold" font-size="18.5" fill="#9a9a9a" style="mix-blend-mode:multiply" letter-spacing="-0.8">AUTOCAR</text>
<text x="484.5" y="647" font-family="Liberation Sans, sans-serif" font-weight="bold" font-size="18.5" fill="#9a9a9a" style="mix-blend-mode:multiply" letter-spacing="-0.8">AUTOCAR</text>
<rect x="0" y="640" width="800" height="160" fill="#fff"/>
</svg></body></html>
